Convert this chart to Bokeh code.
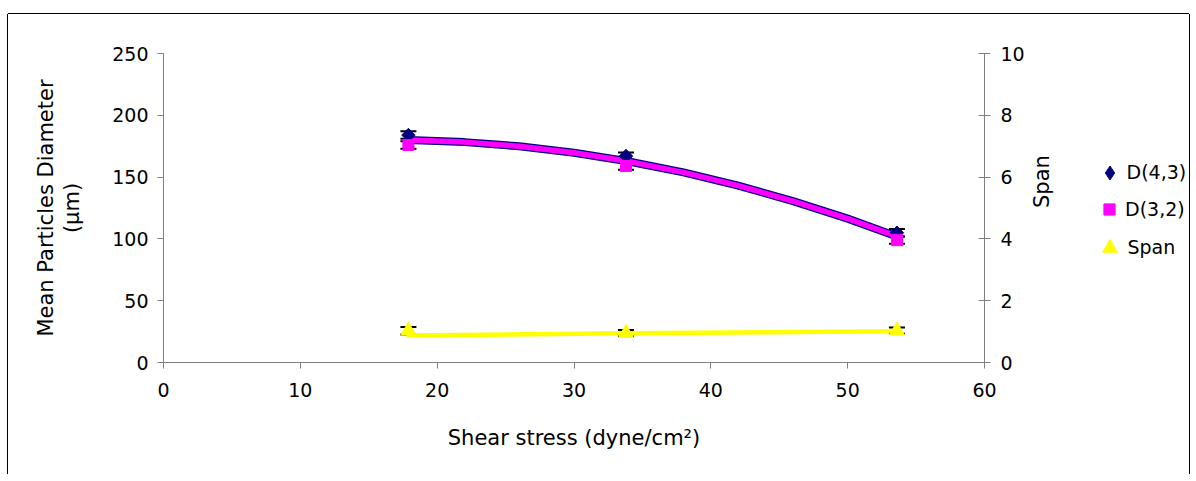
import math
import numpy as np
from bokeh.plotting import figure
from bokeh.layouts import row
from bokeh.models import (Range1d, LinearAxis, FixedTicker, Whisker, TeeHead,
                          ColumnDataSource, Legend, LegendItem)
from bokeh.embed import file_html
from bokeh.resources import INLINE

# ---- data ----
shear = [17.9, 33.8, 53.6]
d43 = [184, 167, 105]
d43_err = [3, 3, 3]
d32 = [176, 159, 99]
d32_err = [3, 3, 3]
span = [1.03, 0.95, 1.03]
span_err = [0.12, 0.10, 0.10]

# trend lines as they appear in the picture
trend_x = [17.9, 22, 26, 30, 33.8, 38, 42, 46, 50, 53.6]
trend_d = [180, 178.3, 174.9, 169.7, 163, 153.8, 143.1, 130.6, 116.4, 102]
span_trend_x = [17.9, 33.8, 53.6]
span_trend = [0.87, 0.95, 1.01]

x_ticks = [0, 10, 20, 30, 40, 50, 60]
y_ticks = [0, 50, 100, 150, 200, 250]
y2_ticks = [0, 2, 4, 6, 8, 10]
series_names = ["D(4,3)", "D(3,2)", "Span"]

FONT = "DejaVu Sans"
AX = "#808080"
NAVY, MAGENTA, YELLOW = "#000080", "#FF00FF", "#FFFF00"

BORDERS = dict(min_border_top=39, min_border_bottom=112)

p = figure(width=1082, height=460, x_range=Range1d(0, 60), y_range=Range1d(0, 250),
           output_backend="svg", toolbar_location=None,
           min_border_left=155, min_border_right=106, **BORDERS,
           x_axis_type=None, y_axis_type=None)
p.extra_y_ranges = {"span": Range1d(0, 10)}
p.grid.visible = False
p.outline_line_color = None

def style_axis(ax, ticks, out=6, inn=0):
    ax.ticker = FixedTicker(ticks=ticks)
    ax.axis_line_color = AX
    ax.major_tick_line_color = AX
    ax.minor_tick_line_color = None
    ax.major_tick_out = out
    ax.major_tick_in = inn
    ax.major_label_text_font = FONT
    ax.major_label_text_font_size = "19px"
    ax.major_label_text_color = "black"
    ax.axis_label_text_font = FONT
    ax.axis_label_text_font_size = "21px"
    ax.axis_label_text_font_style = "normal"
    ax.axis_label_text_color = "black"

xa = LinearAxis(axis_label="Shear stress (dyne/cm²)")
style_axis(xa, x_ticks)
xa.major_label_standoff = 14
xa.axis_label_standoff = 26
p.add_layout(xa, "below")

ya = LinearAxis(axis_label="Mean Particles Diameter\n(μm)")
style_axis(ya, y_ticks)
ya.major_label_standoff = 9
ya.axis_label_standoff = 25
ya.axis_label_text_line_height = 1.1
p.add_layout(ya, "left")

ya2 = LinearAxis(y_range_name="span", axis_label="Span")
style_axis(ya2, y2_ticks, out=6, inn=6)
ya2.major_label_standoff = 10
ya2.axis_label_standoff = 14
ya2.axis_label_orientation = math.pi / 2
p.add_layout(ya2, "right")

# trend lines
p.line(trend_x, trend_d, line_color=NAVY, line_width=8, line_join="round", line_cap="round")
p.line(trend_x, trend_d, line_color=MAGENTA, line_width=5.5, line_join="round", line_cap="round")
p.line(span_trend_x, span_trend, line_color=YELLOW, line_width=4.5, y_range_name="span",
       line_join="round", line_cap="round")

# error bars
def err_src(vals, errs):
    return ColumnDataSource(dict(x=shear, lo=[v - e for v, e in zip(vals, errs)],
                                 hi=[v + e for v, e in zip(vals, errs)]))

for s, rn in ((err_src(d43, d43_err), "default"), (err_src(d32, d32_err), "default"),
              (err_src(span, span_err), "span")):
    w = Whisker(base="x", lower="lo", upper="hi", source=s, line_color="black", line_width=1.5,
                upper_head=TeeHead(size=16, line_color="black", line_width=2),
                lower_head=TeeHead(size=16, line_color="black", line_width=2))
    if rn == "span":
        w.y_range_name = "span"
    p.add_layout(w)

p.scatter(shear, d43, marker="square", angle=math.pi / 4, size=9.5, fill_color=NAVY, line_color=NAVY)
p.scatter(shear, d32, marker="square", size=11, fill_color=MAGENTA, line_color=MAGENTA)
p.scatter(shear, span, marker="triangle", size=15, fill_color=YELLOW, line_color=YELLOW,
          y_range_name="span")

# legend panel (its frame is aligned with the main frame by the row)
p2 = figure(width=99, height=460, x_range=Range1d(0, 1), y_range=Range1d(0, 1),
            output_backend="svg", toolbar_location=None,
            min_border_left=0, min_border_right=0, **BORDERS,
            x_axis_type=None, y_axis_type=None)
p2.grid.visible = False
p2.outline_line_color = None
l43 = p2.scatter([np.nan], [np.nan], marker="diamond", fill_color=NAVY, line_color=NAVY)
l32 = p2.scatter([np.nan], [np.nan], marker="square", fill_color=MAGENTA, line_color=MAGENTA)
lsp = p2.scatter([np.nan], [np.nan], marker="triangle", fill_color=YELLOW, line_color=YELLOW)

def add_legend(label, rend, glyph, loc, standoff):
    lg = Legend(items=[LegendItem(label=label, renderers=[rend])], location=loc)
    lg.border_line_color = None
    lg.background_fill_alpha = 0
    lg.padding = 0
    lg.margin = 0
    lg.glyph_width = glyph
    lg.glyph_height = glyph
    lg.label_height = glyph
    lg.label_standoff = standoff
    lg.label_text_font = FONT
    lg.label_text_font_size = "19px"
    lg.label_text_color = "black"
    p2.add_layout(lg, "center")

add_legend(series_names[0], l43, 35, (1.5, 172.5), 0)
add_legend(series_names[1], l32, 28, (5, 139), 2)
add_legend(series_names[2], lsp, 37, (0.5, 96.5), 0)

lay = row(p, p2, styles={"margin": "14px 0 0 8px",
                         "box-shadow": "-1px 0 0 0 #000, 0 -1px 0 0 #000, 1px 0 0 0 #000"})

open("out.html", "w").write(file_html(lay, INLINE))
